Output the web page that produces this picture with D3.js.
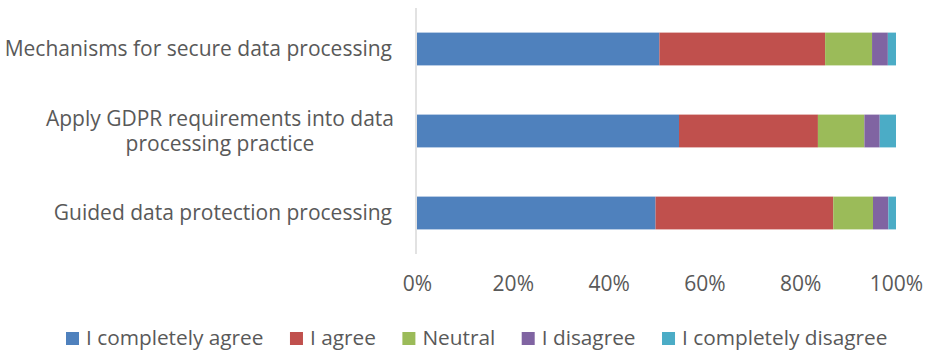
<!DOCTYPE html>
<html>
<head>
<meta charset="utf-8">
<script src="https://cdn.jsdelivr.net/npm/d3@7"></script>
<style>
  body { margin: 0; background: #fff; }
  svg text { font-family: "Open Sans", sans-serif; fill: #595959; }
</style>
</head>
<body>
<svg id="chart" width="925" height="356"></svg>
<script>
// categories, with the wrapped label lines as Excel shows them
var categories = ["Mechanisms for secure data processing",
                  "Apply GDPR requirements into data processing practice",
                  "Guided data protection processing"];
var categoryLines = [["Mechanisms for secure data processing"],
                     ["Apply GDPR requirements into data", "processing practice"],
                     ["Guided data protection processing"]];

// series values (percent of respondents)
var seriesNames = ["I completely agree", "I agree", "Neutral", "I disagree", "I completely disagree"];
var completelyAgree    = [50.6, 54.7, 49.8];
var agree              = [34.6, 29.0, 37.1];
var neutral            = [9.8, 9.7, 8.3];
var disagree           = [3.3, 3.2, 3.2];
var completelyDisagree = [1.7, 3.4, 1.6];

var tickValues = [0, 0.2, 0.4, 0.6, 0.8, 1];
var colors = ["#4f81bd", "#c0504d", "#9bbb59", "#8064a2", "#4bacc6"];

var svg = d3.select("#chart");

// build a table for the stack layout
var seriesValues = [completelyAgree, agree, neutral, disagree, completelyDisagree];
var table = categories.map(function(c, i) {
  var row = { category: c };
  seriesNames.forEach(function(s, j) { row[s] = seriesValues[j][i] / 100; });
  return row;
});
var stacked = d3.stack().keys(seriesNames)(table);

var x = d3.scaleLinear().domain([0, 1]).range([417, 896]);
var y = d3.scaleBand()
  .domain(categories)
  .range([8, 254])
  .paddingInner(0.6)
  .paddingOuter(0.3);

var color = d3.scaleOrdinal().domain(seriesNames).range(colors);

// bars
svg.append("g").selectAll("g")
  .data(stacked)
  .enter().append("g")
    .attr("fill", function(d) { return color(d.key); })
  .selectAll("rect")
  .data(function(d) { return d; })
  .enter().append("rect")
    .attr("x", function(d) { return x(d[0]); })
    .attr("width", function(d) { return x(d[1]) - x(d[0]); })
    .attr("y", function(d) { return y(d.data.category); })
    .attr("height", y.bandwidth());

// vertical axis line
svg.append("line")
  .attr("x1", 416).attr("x2", 416)
  .attr("y1", 8).attr("y2", 254)
  .attr("stroke", "#d9d9d9")
  .attr("stroke-width", 1.5);

// category labels
var lineHeight = 25.5;
var labels = svg.append("g").selectAll("text")
  .data(categories)
  .enter().append("text")
    .attr("font-size", 21)
    .attr("text-anchor", function(d, i) { return categoryLines[i].length > 1 ? "middle" : "end"; })
    .attr("x", function(d, i) { return categoryLines[i].length > 1 ? 220 : 392; })
    .attr("y", function(d, i) {
      var n = categoryLines[i].length;
      return y(d) + y.bandwidth() / 2 + 7.4 - (n - 1) * lineHeight / 2;
    });
labels.each(function(d, i) {
  var t = d3.select(this);
  categoryLines[i].forEach(function(line, k) {
    t.append("tspan")
      .attr("x", t.attr("x"))
      .attr("dy", k === 0 ? 0 : lineHeight)
      .text(line);
  });
});

// x axis tick labels
var xAxis = d3.axisBottom(x)
  .tickValues(tickValues)
  .tickSize(0)
  .tickPadding(0)
  .tickFormat(d3.format(".0%"));
var gx = svg.append("g")
  .attr("transform", "translate(0,291)")
  .call(xAxis);
gx.select(".domain").remove();
gx.selectAll("text")
  .attr("dy", 0)
  .attr("y", 0)
  .attr("font-size", 21)
  .attr("fill", "#595959")
  .style("font-family", "'Open Sans', sans-serif");

// legend, laid out left to right like Excel does
var legend = svg.append("g").selectAll("g")
  .data(seriesNames)
  .enter().append("g");
legend.append("rect")
  .attr("y", 332)
  .attr("width", 13).attr("height", 13)
  .attr("fill", function(d) { return color(d); });
legend.append("text")
  .attr("x", 20)
  .attr("y", 345)
  .attr("font-size", 20.8)
  .text(function(d) { return d; });
var lx = 66;
legend.each(function() {
  var g = d3.select(this);
  g.attr("transform", "translate(" + lx + ",0)");
  lx += 20 + g.select("text").node().getComputedTextLength() + 26.5;
});
</script>
</body>
</html>
